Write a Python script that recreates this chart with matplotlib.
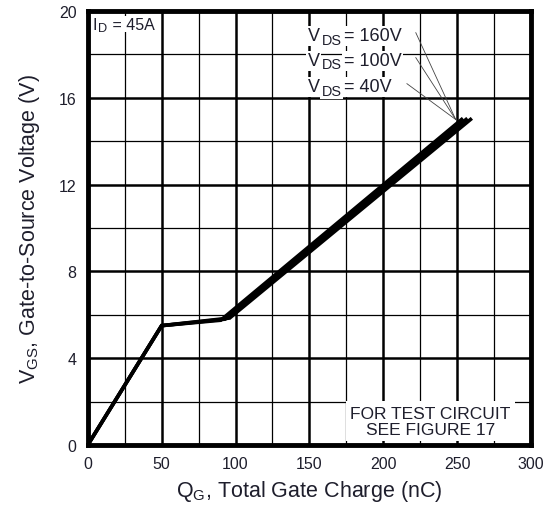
import matplotlib
matplotlib.use("Agg")
import matplotlib.pyplot as plt
from matplotlib.patches import Rectangle
from matplotlib.ticker import MultipleLocator

plt.rcParams["font.family"] = ["Liberation Sans", "DejaVu Sans"]
plt.rcParams["mathtext.fontset"] = "custom"
plt.rcParams["mathtext.rm"] = "Liberation Sans"

# gate charge curves, one per drain-source voltage
labels = ["160V", "100V", "40V"]
qg_160 = [0, 50, 96, 259]
vgs_160 = [0, 5.5, 5.85, 15.0]
qg_100 = [0, 50, 93, 256]
vgs_100 = [0, 5.5, 5.8, 15.0]
qg_40 = [0, 50, 90, 253]
vgs_40 = [0, 5.5, 5.75, 15.0]

x_ticks = [0, 50, 100, 150, 200, 250, 300]
y_ticks = [0, 4, 8, 12, 16, 20]

TXT = "#1e1e2c"

fig = plt.figure(figsize=(5.59, 5.10), dpi=100)
ax = fig.add_axes([0.157, 0.1255, 0.793, 0.851])

ax.set_xlim(0, 300)
ax.set_ylim(0, 20)
ax.set_xticks(x_ticks)
ax.set_yticks(y_ticks)
ax.xaxis.set_minor_locator(MultipleLocator(25))
ax.yaxis.set_minor_locator(MultipleLocator(2))
ax.grid(which="major", color="black", lw=1.8, zorder=0)
ax.grid(which="minor", color="black", lw=0.9, zorder=0)
ax.tick_params(which="both", length=0, labelsize=11.5, labelcolor=TXT)
ax.tick_params(axis="x", pad=8)
ax.tick_params(axis="y", pad=8)
for s in ax.spines.values():
    s.set_linewidth(3.5)
    s.set_zorder(5)

for q, v in [(qg_40, vgs_40), (qg_100, vgs_100), (qg_160, vgs_160)]:
    ax.plot(q, v, color="black", lw=2.6, solid_joinstyle="miter", zorder=3)

ax.set_xlabel(r"$\mathregular{Q_G}$, Total Gate Charge (nC)", fontsize=15.5,
              color=TXT, labelpad=5)
ax.set_ylabel(r"$\mathregular{V_{GS}}$, Gate-to-Source Voltage (V)", fontsize=15.5,
              color=TXT, labelpad=12)


def sub_label(x, y, main, sub, rest, fs, pad=1.0):
    """Text with a large, lowered subscript, e.g. V_DS = 40V."""
    bb = dict(facecolor="white", edgecolor="none", pad=pad)
    t1 = ax.text(x, y, main, fontsize=fs, color=TXT, ha="left", va="center",
                 bbox=bb, zorder=4)
    t2 = ax.annotate(sub, xy=(1, 0), xycoords=t1, xytext=(pad + 0.3, -1.5),
                     textcoords="offset points", fontsize=fs * 0.8, color=TXT,
                     ha="left", va="bottom", bbox=bb, zorder=4)
    ax.annotate(rest, xy=(1, 0.5), xycoords=(t2, t1), xytext=(pad + 0.3, 0),
                textcoords="offset points", fontsize=fs, color=TXT,
                ha="left", va="center", bbox=bb, zorder=4)


# white patch behind the drain current note
ax.add_patch(Rectangle((0, 18.6), 56, 1.4, facecolor="white", edgecolor="none",
                       zorder=1))
sub_label(3, 19.4, "I", "D", " = 45A", 11.5, pad=0.5)

# VDS labels with leader lines into the curve ends
tip = (249, 15.0)
label_y = [18.85, 17.7, 16.5]
label_end = [(222, 19.0), (222, 17.85), (216, 16.65)]
for lab, ly, end in zip(labels, label_y, label_end):
    sub_label(149, ly, "V", "DS", "= " + lab, 13)
    ax.plot([end[0], tip[0]], [end[1], tip[1]], color="#444", lw=0.6, zorder=4)

ax.text(232, 1.1, "FOR TEST CIRCUIT\nSEE FIGURE 17", fontsize=12.5, color=TXT,
        ha="center", va="center", linespacing=1.1,
        bbox=dict(facecolor="white", edgecolor="none", pad=3), zorder=4)

fig.savefig("out.png", dpi=100)
